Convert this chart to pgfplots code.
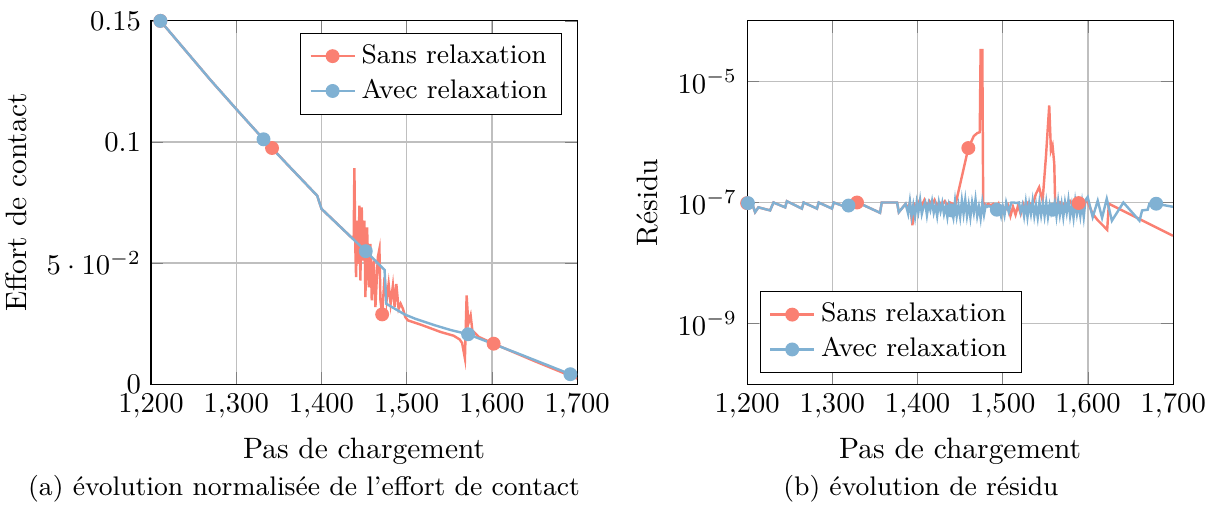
\documentclass[border=0pt]{standalone}
\usepackage{fontspec}
\usepackage{pgfplots}
\pgfplotsset{compat=1.18}

\definecolor{sansc}{RGB}{250,128,114}
\definecolor{avecc}{RGB}{128,177,211}

\pgfplotsset{
  panel/.style={
    scale only axis, width=149pt, height=127pt,
    font=\fontsize{10.3}{12.4}\selectfont,
    xmin=1200, xmax=1700,
    xtick={1200,1300,1400,1500,1600,1700},
    grid=major,
    xlabel={Pas de chargement},
    legend cell align=left,
    legend style={draw=black, fill=white, font=\fontsize{9.4}{11.5}\selectfont},
    legend image code/.code={%
      \draw[mark repeat=2,mark phase=2] plot coordinates {(0cm,0cm) (0.27cm,0cm) (0.54cm,0cm)};},
  },
  sans/.style={sansc, line width=0.85pt},
  avec/.style={avecc, line width=0.85pt},
  pts/.style={only marks, mark=*, mark size=2pt, forget plot},
}

\begin{document}
\begin{tikzpicture}
\path[use as bounding box] (-52.8pt,-42.7pt) rectangle (372pt,134.3pt);

% (a) effort de contact
\begin{axis}[panel, at={(0pt,0pt)}, anchor=south west,
    ymin=0, ymax=0.15, ytick={0,0.05,0.1,0.15},
    ylabel={Effort de contact},
    legend style={at={(0.965,0.968)}, anchor=north east}]
\addplot[sans, forget plot] coordinates {
(1211,0.1500) (1270,0.1255) (1300,0.1136) (1332,0.1011) (1342,0.0975)
(1360,0.0907) (1395,0.0778) (1400,0.0724) (1436,0.0603)
(1437.8,0.0606) (1438.6,0.0892) (1439.8,0.0551) (1440.6,0.0442) (1441.8,0.0675)
(1443.3,0.0497) (1444.5,0.0737) (1445.6,0.0428) (1447.2,0.0730) (1448.8,0.0510)
(1450.4,0.0675) (1451.5,0.0359) (1453.5,0.0647) (1455.5,0.0400) (1457.4,0.0579)
(1459,0.0346) (1461.4,0.0510) (1463.3,0.0318) (1466.1,0.0524) (1468,0.0558)
(1469.2,0.0346) (1471.2,0.0288) (1474,0.0442) (1476.4,0.0346) (1478.8,0.0414)
(1481.1,0.0332) (1483.8,0.0407) (1485.8,0.0318) (1487.8,0.0414) (1490.5,0.0311)
(1492.9,0.0332) (1495.6,0.0311) (1498.3,0.0277) (1501.5,0.0263)
(1517,0.0245) (1540,0.0215) (1555,0.0200) (1562,0.0185) (1565,0.0170)
(1568.3,0.0106) (1570.3,0.0366) (1572.3,0.0250) (1575,0.0284) (1577,0.0222)
(1580.5,0.0209) (1584.5,0.0195) (1602,0.0167) (1650,0.0095) (1700,0.0023)
};
\addplot[sans, pts] coordinates {(1211,0.1500) (1342,0.0975) (1471.2,0.0288) (1602,0.0167)};
\addplot[avec, forget plot] coordinates {
(1211,0.1500) (1270,0.1255) (1300,0.1136) (1332,0.1011) (1360,0.0907)
(1395,0.0778) (1400,0.0724) (1452,0.0549) (1474,0.0472) (1476,0.0332)
(1497.5,0.0288) (1510,0.0270) (1533,0.0243) (1552,0.0223) (1572,0.0206)
(1631,0.0126) (1692,0.0041)
};
\addplot[avec, pts] coordinates {(1211,0.1500) (1332,0.1011) (1452,0.0549) (1572,0.0206) (1692,0.0041)};
\addlegendimage{sans, mark=*, mark size=2pt}
\addlegendentry{Sans relaxation}
\addlegendimage{avec, mark=*, mark size=2pt}
\addlegendentry{Avec relaxation}
\end{axis}

\node[font=\fontsize{9.4}{11.5}\selectfont] at (53.5pt,-36.7pt) {(a) évolution normalisée de l'effort de contact};

% (b) residu
\begin{axis}[panel, at={(208.4pt,0pt)}, anchor=south west,
    ymode=log, ymin=1e-10, ymax=1e-4, ytick={1e-9,1e-7,1e-5},
    ylabel={Résidu},
    legend style={at={(0.03,0.03)}, anchor=south west}]
\addplot[sans, forget plot] coordinates {
(1200,9.77e-8) (1205.5,1.0e-7) (1209.4,6.92e-8) (1213.3,8.32e-8) (1227,7.41e-8)
(1231,1.0e-7) (1244.7,8.32e-8) (1246.7,1.05e-7) (1264.3,7.94e-8) (1266.3,1.0e-7)
(1282,7.94e-8) (1284,1.0e-7) (1299.6,7.94e-8) (1301.6,1.0e-7) (1317,8.32e-8)
(1319,8.91e-8) (1330,1.0e-7) (1356,6.76e-8) (1358,1.0e-7) (1376,1.0e-7)
(1378,6.92e-8) (1386,9.5e-8) (1389,8.0e-8) (1391,1.0e-7) (1394,4.2e-8)
(1396,9.5e-8) (1399,8.5e-8) (1402,1.05e-7) (1405,9.0e-8) (1408,1.1e-7)
(1411,8.5e-8) (1414,1.05e-7) (1417,9.0e-8) (1420,1.1e-7) (1423,8.8e-8)
(1426,1.0e-7) (1429,9.2e-8) (1432,1.05e-7) (1435,9.0e-8) (1438,1.0e-7)
(1441,9.5e-8) (1444.7,9.5e-8) (1459.6,7.94e-7) (1466,1.25e-6) (1470,1.40e-6)
(1473,1.45e-6) (1474,3.3e-5) (1476,3.3e-5) (1477,1.0e-7) (1480,9.0e-8)
(1483,9.5e-8) (1486,9.0e-8) (1489,9.5e-8) (1492,8.0e-8) (1495,9.5e-8)
(1498,6.5e-8) (1500,8.8e-8) (1503,7.5e-8) (1506,9.0e-8) (1509,6.0e-8)
(1512,8.5e-8) (1515,6.3e-8) (1518,9.0e-8) (1521,6.5e-8) (1524,9.5e-8)
(1527,7.5e-8) (1530,1.0e-7) (1533,9.5e-8) (1536,1.0e-7) (1538.8,1.38e-7)
(1542.7,1.78e-7) (1546.7,1.07e-7) (1550.6,5.6e-7) (1554.5,4.0e-6) (1556.5,7.2e-7)
(1558.4,8.7e-7) (1560.4,4.4e-7) (1561.5,9.5e-8) (1564,9.5e-8) (1567,1.0e-7)
(1570,8.5e-8) (1573,1.0e-7) (1576,9.0e-8) (1579,1.05e-7) (1582,9.0e-8)
(1585,1.0e-7) (1589,9.8e-8) (1592,1.0e-7) (1596,1.05e-7) (1599.6,1.02e-7)
(1605.5,6.5e-8) (1611.4,5.1e-8) (1622.5,3.55e-8) (1624.5,9.55e-8) (1699.6,2.82e-8)
};
\addplot[sans, pts] coordinates {(1200,9.77e-8) (1329,1.0e-7) (1459.6,7.94e-7) (1589,9.8e-8)};
\addplot[avec, forget plot] coordinates {
(1200,9.77e-8) (1205.5,1.0e-7) (1209.4,6.92e-8) (1213.3,8.32e-8) (1227,7.41e-8)
(1231,1.0e-7) (1244.7,8.32e-8) (1246.7,1.05e-7) (1264.3,7.94e-8) (1266.3,1.0e-7)
(1282,7.94e-8) (1284,1.0e-7) (1299.6,7.94e-8) (1301.6,1.0e-7) (1317,8.32e-8)
(1319,8.91e-8) (1330,1.0e-7) (1356,6.76e-8) (1358,1.0e-7) (1376,1.0e-7)
(1378,6.92e-8) (1386,9.5e-8) (1389,6.5e-8) (1391,1.05e-7) (1393,6.0e-8)
(1395,9.0e-8) (1397,5.8e-8) (1399,1.0e-7) (1401,7.0e-8) (1403,1.1e-7)
(1405,6.5e-8) (1407,8.5e-8) (1409,1.0e-7) (1411,6.2e-8) (1413,9.5e-8)
(1415,7.5e-8) (1417,1.05e-7) (1419,6.8e-8) (1421,9.0e-8) (1423,6.0e-8)
(1425,1.0e-7) (1427,7.2e-8) (1429,9.8e-8) (1431,6.5e-8) (1433,8.8e-8)
(1435,5.8e-8) (1437,9.5e-8) (1440,7.4e-8) (1442,5.6e-8) (1444,1.05e-7)
(1446,6.0e-8) (1448,9.0e-8) (1450,5.8e-8) (1452,1.08e-7) (1454,6.5e-8)
(1456,1.1e-7) (1458,6.0e-8) (1460,9.2e-8) (1462,5.7e-8) (1464,1.0e-7)
(1466,6.8e-8) (1468,1.12e-7) (1470,6.0e-8) (1472,8.5e-8) (1474,5.5e-8)
(1476,1.0e-7) (1478,6.3e-8) (1480,9.0e-8) (1482,8.5e-8) (1484,8.8e-8)
(1488,8.0e-8) (1493,7.6e-8) (1496,8.0e-8) (1498,6.0e-8) (1500,8.5e-8)
(1502,6.2e-8) (1504,1.0e-7) (1507,7.0e-8) (1510,1.0e-7) (1513,1.0e-7)
(1516,9.8e-8) (1519,1.0e-7) (1521,7.0e-8) (1523,9.0e-8) (1525,6.0e-8)
(1527,1.0e-7) (1529,5.8e-8) (1531,9.5e-8) (1533,6.5e-8) (1535,1.05e-7)
(1537,6.0e-8) (1539,9.0e-8) (1541,5.7e-8) (1543,1.0e-7) (1545,6.2e-8)
(1547,9.5e-8) (1549,6.0e-8) (1551,1.0e-7) (1553,5.8e-8) (1555,9.0e-8)
(1557,6.5e-8) (1559,7.6e-8) (1561,1.0e-7) (1563,6.0e-8) (1565,1.05e-7)
(1567,6.3e-8) (1569,9.5e-8) (1571,5.8e-8) (1573,1.0e-7) (1575,6.8e-8)
(1577,1.1e-7) (1579,6.0e-8) (1581,9.0e-8) (1583,5.6e-8) (1585,1.05e-7)
(1587,6.5e-8) (1589,9.5e-8) (1591,6.0e-8) (1593,1.0e-7) (1595,5.8e-8)
(1597,1.1e-7) (1599.6,1.23e-7) (1605.5,5.75e-8) (1611.4,1.07e-7) (1616.5,5.6e-8)
(1622,1.15e-7) (1628,5.0e-8) (1641.5,1.0e-7) (1660.4,5.0e-8) (1663.5,7.4e-8)
(1670,7.6e-8) (1672,9.55e-8) (1680,9.55e-8) (1699.6,8.5e-8)
};
\addplot[avec, pts] coordinates {(1201,9.77e-8) (1319,8.91e-8) (1440,7.4e-8) (1493,7.6e-8) (1559,7.6e-8) (1680,9.55e-8)};
\addlegendimage{sans, mark=*, mark size=2pt}
\addlegendentry{Sans relaxation}
\addlegendimage{avec, mark=*, mark size=2pt}
\addlegendentry{Avec relaxation}
\end{axis}

\node[font=\fontsize{9.4}{11.5}\selectfont] at (269.2pt,-36.7pt) {(b) évolution de résidu};
\end{tikzpicture}
\end{document}
